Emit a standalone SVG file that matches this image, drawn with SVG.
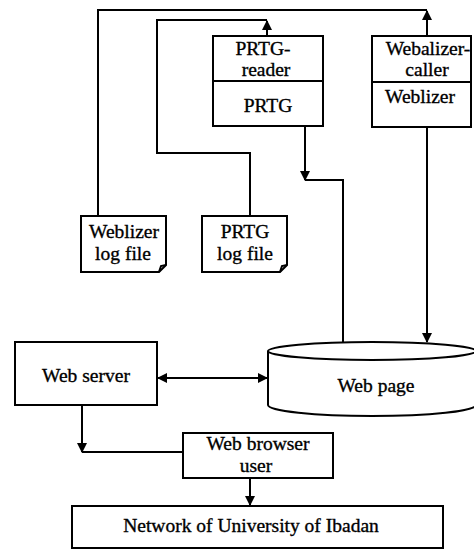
<svg xmlns="http://www.w3.org/2000/svg" width="474" height="550" viewBox="0 0 474 550">
<style>
.b{fill:#fff;stroke:#000;stroke-width:2}
.l{fill:none;stroke:#000;stroke-width:2}
text{font-family:"Liberation Serif","Times New Roman",serif;font-size:19.5px;fill:#000;stroke:#000;stroke-width:0.35;text-anchor:middle}
</style>
<defs>
<marker id="a" viewBox="0 0 10 10" refX="9" refY="5" markerWidth="5" markerHeight="5" orient="auto-start-reverse" markerUnits="strokeWidth">
<path d="M0,0 L10,5 L0,10 Z" fill="#000"/>
</marker>
</defs>
<rect width="474" height="550" fill="#fff"/>
<g id="connectors">
<path class="l" d="M98,216 V10 H427"/>
<path class="l" d="M427,36 V11" marker-end="url(#a)"/>
<path class="l" d="M250,216 V153 H157 V20 H267"/>
<path class="l" d="M267,36 V21" marker-end="url(#a)"/>
<path class="l" d="M305,126 V180" marker-end="url(#a)"/>
<path class="l" d="M305,180 H343 V343"/>
<path class="l" d="M427,127 V342" marker-end="url(#a)"/>
<path class="l" d="M158,378 H267" marker-start="url(#a)" marker-end="url(#a)"/>
<path class="l" d="M82,405 V452" marker-end="url(#a)"/>
<path class="l" d="M82,452 H183"/>
<path class="l" d="M250,478 V505" marker-end="url(#a)"/>
</g>
<g id="prtg-reader">
<rect class="b" x="213" y="36" width="110" height="90"/>
<line class="l" x1="213" y1="81" x2="323" y2="81"/>
<text x="263" y="55">PRTG-</text>
<text x="266" y="76">reader</text>
<text x="268" y="112">PRTG</text>
</g>
<g id="webalizer-caller">
<rect class="b" x="372" y="36" width="99" height="91"/>
<line class="l" x1="372" y1="82" x2="471" y2="82"/>
<text x="428" y="55">Webalizer-</text>
<text x="427" y="76">caller</text>
<text x="420" y="103">Weblizer</text>
</g>
<g id="weblizer-log">
<path class="b" d="M81,216 H166 V265 L159,272 H81 Z"/>
<path class="l" d="M159,272 L161,266 L166,265" stroke-width="1.5"/>
<text x="124" y="238">Weblizer</text>
<text x="123" y="260">log file</text>
</g>
<g id="prtg-log">
<path class="b" d="M202,216 H287 V265 L280,272 H202 Z"/>
<path class="l" d="M280,272 L282,266 L287,265" stroke-width="1.5"/>
<text x="245" y="238">PRTG</text>
<text x="245" y="260">log file</text>
</g>
<g id="web-server">
<rect class="b" x="15" y="342" width="142" height="63"/>
<text x="86" y="382">Web server</text>
</g>
<g id="web-page">
<path class="b" d="M268,351 V405 A104,11 0 0 0 476,405 V351"/>
<ellipse class="b" cx="372" cy="351" rx="104" ry="9"/>
<text x="376" y="392">Web page</text>
</g>
<g id="web-browser">
<rect class="b" x="183" y="433" width="150" height="45"/>
<text x="258" y="450">Web browser</text>
<text x="256" y="472">user</text>
</g>
<g id="network">
<rect class="b" x="72" y="506" width="371" height="42"/>
<text x="251" y="532">Network of University of Ibadan</text>
</g>
</svg>
